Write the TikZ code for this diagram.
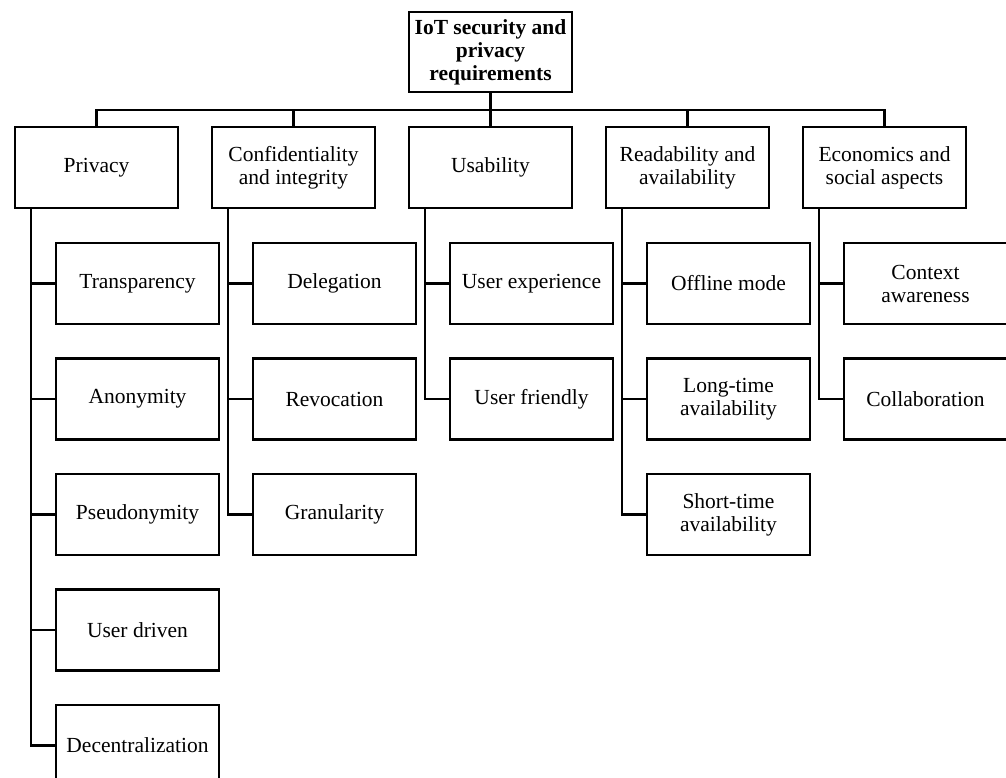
\documentclass[tikz,border=0pt]{standalone}
\usepackage{fontspec}
\setmainfont{Liberation Serif}
\begin{document}
\begin{tikzpicture}[x=1pt,y=-1pt,
  every node/.style={font=\fontsize{21.5}{23}\selectfont},
  box/.style={draw,line width=2.2pt,minimum width=163pt,minimum height=81pt,inner sep=0pt,align=center},
  rootbox/.style={box,minimum height=80pt,font=\fontsize{21.5}{23}\selectfont\bfseries},
  link/.style={line width=2.2pt}]
\useasboundingbox (0,0) rectangle (1006,778);
\clip (0,0) rectangle (1006,778);
% root
\node[rootbox] (root) at (490.5,52) {IoT security and\\privacy\\requirements};
% level 1
\node[box] (p)  at (96.5,167.5) {Privacy};
\node[box] (c)  at (293.5,167.5) {Confidentiality\\and integrity};
\node[box] (u)  at (490.5,167.5) {Usability};
\node[box] (r)  at (687.5,167.5) {Readability and\\availability};
\node[box] (e)  at (884.5,167.5) {Economics and\\social aspects};
\foreach \n in {p,c,u,r,e}{
  \draw[link] (root.south) -- ++(0,17) -| (\n.north);
}
% privacy children
\node[box] (p1) at (137.5,283.5) {Transparency};
\node[box] (p2) at (137.5,399) {Anonymity};
\node[box] (p3) at (137.5,514.5) {Pseudonymity};
\node[box] (p4) at (137.5,630) {User driven};
\node[box] (p5) at (137.5,745.5) {Decentralization};
% confidentiality children
\node[box] (c1) at (334.5,283.5) {Delegation};
\node[box] (c2) at (334.5,399) {Revocation};
\node[box] (c3) at (334.5,514.5) {Granularity};
% usability children
\node[box] (u1) at (531.5,283.5) {User experience};
\node[box] (u2) at (531.5,399) {User friendly};
% readability children
\node[box] (r1) at (728.5,283.5) {Offline mode};
\node[box] (r2) at (728.5,399) {Long-time\\availability};
\node[box] (r3) at (728.5,514.5) {Short-time\\availability};
% economics children
\node[box] (e1) at (925.5,283.5) {Context\\awareness};
\node[box] (e2) at (925.5,399) {Collaboration};
% connectors
\foreach \pa/\kids in {p/{p1,p2,p3,p4,p5},c/{c1,c2,c3},u/{u1,u2},r/{r1,r2,r3},e/{e1,e2}}{
  \foreach \k in \kids {
    \draw[link] ([xshift=17pt]\pa.south west) |- (\k.west);
  }
}
\end{tikzpicture}
\end{document}
